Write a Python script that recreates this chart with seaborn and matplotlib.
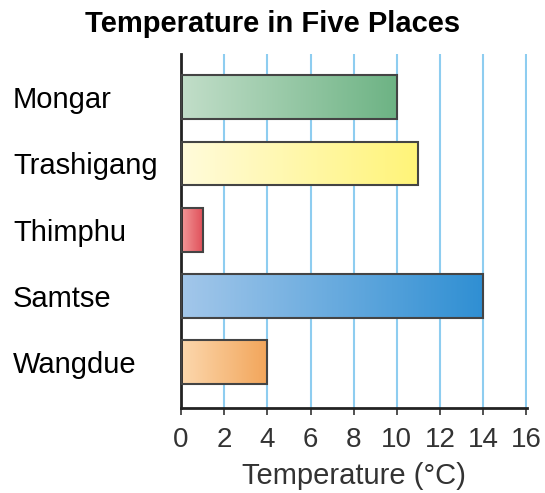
import numpy as np
import pandas as pd
import matplotlib
matplotlib.use("Agg")
import matplotlib.pyplot as plt
from matplotlib.colors import LinearSegmentedColormap
import seaborn as sns

places = ["Mongar", "Trashigang", "Thimphu", "Samtse", "Wangdue"]
temps = [10, 11, 1, 14, 4]
light_colors = ["#c2dec9", "#fffbdb", "#f29a9a", "#a3c7ea", "#fcd8ae"]
dark_colors = ["#6db384", "#fff478", "#e0505a", "#2f8fd3", "#f2a55a"]
x_ticks = list(range(0, 17, 2))

sns.set_theme(style="white")
plt.rcParams["font.family"] = ["Liberation Sans", "DejaVu Sans"]

df = pd.DataFrame({"place": places, "temp": temps})

fig = plt.figure(figsize=(5.45, 4.93), dpi=100)
ax = fig.add_axes([181 / 545, 1 - 408 / 493, 346 / 545, 354 / 493])

sns.barplot(data=df, x="temp", y="place", orient="h", width=0.66,
            color="white", edgecolor="#444444", linewidth=1.5, ax=ax, zorder=3)

# gradient fill clipped to each bar
grad = np.linspace(0, 1, 256).reshape(1, -1)
for patch, c0, c1 in zip(ax.patches, light_colors, dark_colors):
    patch.set_facecolor("none")
    x0, y0 = patch.get_x(), patch.get_y()
    w, h = patch.get_width(), patch.get_height()
    cmap = LinearSegmentedColormap.from_list("g", [c0, c1])
    im = ax.imshow(grad, cmap=cmap, extent=[x0, x0 + w, y0 + h, y0],
                   aspect="auto", zorder=2, interpolation="bilinear")
    im.set_clip_path(patch)

ax.set_xlim(0, 16.03)
ax.set_ylim(4.69, -0.65)
ax.set_xticks(x_ticks)
ax.set_xticklabels([str(t) for t in x_ticks], fontsize=20, color="#333333")
ax.tick_params(axis="x", direction="out", length=5, width=1.2, color="#333333", pad=9, bottom=True)
ax.tick_params(axis="y", length=0, pad=121)
for lbl in ax.get_yticklabels():
    lbl.set_horizontalalignment("left")
    lbl.set_fontsize(21)
    lbl.set_color("black")

ax.grid(axis="x", color="#8ecdf0", linewidth=1.5)
ax.grid(axis="y", visible=False)
ax.set_axisbelow(True)

for side in ["top", "right"]:
    ax.spines[side].set_visible(False)
for side in ["left", "bottom"]:
    ax.spines[side].set_color("#222222")
    ax.spines[side].set_linewidth(2)

ax.set_ylabel("")
ax.set_xlabel("Temperature (°C)", fontsize=21, color="#333333", labelpad=6)
fig.suptitle("Temperature in Five Places", x=0.5, y=0.98, fontsize=21,
             fontweight="bold", color="black")

fig.savefig("out.png", dpi=100)
